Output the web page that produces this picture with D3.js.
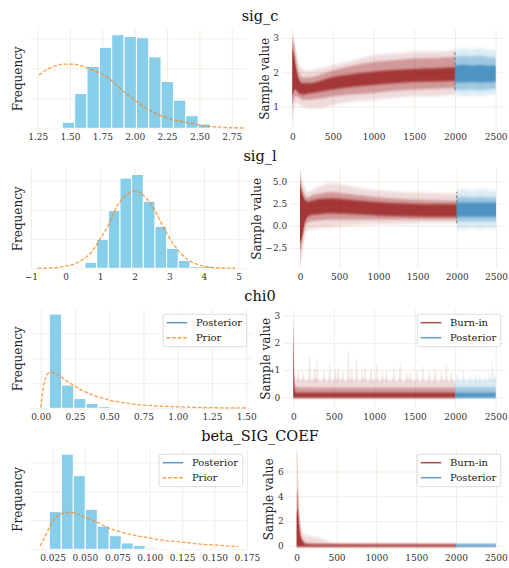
<!DOCTYPE html>
<html><head><meta charset="utf-8">
<script src="https://cdn.jsdelivr.net/npm/d3@7"></script>
<style>
body{margin:0;background:#fff;}
svg{display:block;font-family:"DejaVu Serif",serif;}
</style></head><body>
<svg id="c" width="509" height="568"></svg>
<script>
// ---------------- DATA ----------------
const paramNames = ["sig_c", "sig_l", "chi0", "beta_SIG_COEF"];
const traceTicks = [0, 500, 1000, 1500, 2000, 2500];

// sig_c
const sigC_histEdges = [1.345,1.440,1.536,1.631,1.727,1.822,1.918,2.013,2.108,2.204,2.299,2.395,2.490,2.586];
const sigC_binWidth = 0.0954;
const sigC_histDensity = [0.01,0.10,0.58,1.03,1.35,1.56,1.53,1.51,1.19,0.78,0.47,0.21,0.07,0.01];
const sigC_priorX = [1.26,1.30,1.35,1.40,1.45,1.50,1.55,1.60,1.65,1.70,1.75,1.80,1.85,1.90,1.95,2.00,2.05,2.10,2.15,2.20,2.25,2.30,2.40,2.50,2.60,2.70,2.85];
const sigC_priorY = [0.89,0.95,1.01,1.05,1.07,1.07,1.06,1.03,0.99,0.95,0.90,0.83,0.74,0.64,0.55,0.47,0.39,0.32,0.26,0.21,0.17,0.14,0.10,0.055,0.03,0.015,0.005];
const sigC_histTicks = [1.25,1.50,1.75,2.00,2.25,2.50,2.75];
const sigC_traceYTicks = [1,2,3];
const sigC_burnIter = [0,20,40,60,90,130,200,300,500,750,1000,1250,1500,1750,2000];
const sigC_burnOuterLo = [0.50,0.90,1.10,1.10,1.05,1.00,0.95,0.95,1.05,1.15,1.20,1.25,1.30,1.30,1.35];
const sigC_burnOuterHi = [3.15,3.00,2.75,2.50,2.20,2.10,2.05,2.10,2.20,2.35,2.50,2.55,2.60,2.60,2.65];
const sigC_burnInnerLo = [1.00,1.20,1.30,1.30,1.25,1.20,1.20,1.22,1.30,1.36,1.40,1.46,1.50,1.52,1.55];
const sigC_burnInnerHi = [2.95,2.80,2.50,2.20,1.95,1.85,1.85,1.90,2.05,2.20,2.30,2.35,2.40,2.42,2.45];
const sigC_burnCoreLo = [1.30,1.45,1.50,1.45,1.38,1.35,1.38,1.42,1.50,1.58,1.63,1.68,1.72,1.73,1.75];
const sigC_burnCoreHi = [2.70,2.50,2.20,1.95,1.75,1.68,1.68,1.72,1.86,1.95,2.02,2.07,2.10,2.12,2.15];
const sigC_postIter = [2000,2100,2200,2300,2400,2500];
const sigC_postOuterLo = [1.35,1.30,1.32,1.30,1.33,1.35];
const sigC_postOuterHi = [2.65,2.70,2.68,2.70,2.66,2.65];
const sigC_postInnerLo = [1.50,1.48,1.50,1.48,1.50,1.52];
const sigC_postInnerHi = [2.45,2.48,2.46,2.48,2.45,2.44];
const sigC_postCoreLo = [1.70,1.70,1.72,1.70,1.71,1.72];
const sigC_postCoreHi = [2.20,2.22,2.20,2.21,2.20,2.20];
const sigC_splitRange = [1.48, 2.60];

// sig_l
const sigL_histEdges = [-0.110,0.227,0.564,0.901,1.238,1.575,1.912,2.249,2.586,2.923,3.260,3.597,3.934];
const sigL_binWidth = 0.337;
const sigL_histDensity = [0.007,0,0.041,0.199,0.397,0.618,0.642,0.459,0.286,0.137,0.053,0.012,0.014];
const sigL_priorX = [-0.8,-0.5,0,0.5,0.75,1,1.25,1.5,1.75,2,2.25,2.5,2.75,3,3.25,3.5,3.75,4,4.5,4.9];
const sigL_priorY = [0.001,0.003,0.013,0.06,0.11,0.2,0.3,0.43,0.5,0.53,0.5,0.43,0.32,0.21,0.125,0.065,0.032,0.014,0.002,0.0005];
const sigL_histTicks = [-1,0,1,2,3,4,5];
const sigL_traceYTicks = [-2.5,0,2.5,5];
const sigL_burnIter = [0,15,30,50,75,100,150,250,400,600,800,1000,1300,1600,2000];
const sigL_burnOuterLo = [-4.3,-3.8,-3.0,-1.8,-0.8,-0.5,-0.4,-0.3,-0.2,0.0,0.1,0.2,0.2,0.3,0.3];
const sigL_burnOuterHi = [6.2,5.6,5.0,4.5,4.0,3.8,4.0,4.4,4.8,4.5,4.2,4.0,3.8,3.7,3.6];
const sigL_burnInnerLo = [-2.8,-2.5,-1.8,-0.8,0.1,0.4,0.5,0.6,0.7,0.7,0.7,0.7,0.7,0.7,0.7];
const sigL_burnInnerHi = [5.3,4.8,4.2,3.7,3.3,3.2,3.4,3.6,3.8,3.6,3.4,3.2,3.0,2.9,2.8];
const sigL_burnCoreLo = [-1.9,-1.6,-1.1,0.0,0.7,1.0,1.2,1.3,1.4,1.35,1.25,1.15,1.05,1.0,1.0];
const sigL_burnCoreHi = [4.5,4.0,3.5,3.1,2.8,2.7,2.8,3.0,3.1,2.95,2.8,2.65,2.5,2.4,2.4];
const sigL_postIter = [2000,2100,2200,2300,2400,2500];
const sigL_postOuterLo = [-0.3,-0.4,-0.3,-0.4,-0.3,-0.3];
const sigL_postOuterHi = [4.0,4.1,4.0,4.1,4.0,3.9];
const sigL_postInnerLo = [0.5,0.45,0.5,0.45,0.5,0.5];
const sigL_postInnerHi = [3.2,3.25,3.2,3.25,3.2,3.2];
const sigL_postCoreLo = [1.0,1.0,1.0,1.0,1.0,1.0];
const sigL_postCoreHi = [2.6,2.6,2.6,2.6,2.6,2.6];
const sigL_splitRange = [0.27, 3.8];

// chi0
const chi0_histEdges = [0.063,0.152,0.241,0.330,0.419,0.508,0.597];
const chi0_binWidth = 0.089;
const chi0_histDensity = [7.54,1.86,0.78,0.38,0.14,0.06,0.02];
const chi0_priorX = [0,0.01,0.02,0.035,0.05,0.07,0.09,0.12,0.15,0.2,0.25,0.3,0.35,0.4,0.5,0.6,0.75,0.9,1.0,1.25,1.5];
const chi0_priorY = [0.05,0.9,1.7,2.4,2.75,2.86,2.85,2.72,2.5,2.1,1.78,1.45,1.2,0.98,0.66,0.45,0.26,0.16,0.12,0.05,0.025];
const chi0_histTicks = [0,0.25,0.5,0.75,1.0,1.25,1.5];
const chi0_traceYTicks = [0,1,2,3];
const chi0_burnIter = [0,4,8,12,20,30,50,100,2000];
const chi0_burnOuterHi = [3.05,2.6,1.8,1.2,0.8,0.7,0.65,0.65,0.62];
const chi0_burnInnerHi = [2.9,2.2,1.4,0.8,0.5,0.4,0.38,0.36,0.35];
const chi0_burnCoreHi = [2.7,1.8,1.0,0.5,0.25,0.18,0.17,0.17,0.17];
const chi0_spikeIter = [60,120,200,260,290,380,450,520,555,610,680,720,780,850,885,960,1030,1100,1150,1240,1320,1400,1440,1530,1600,1680,1750,1830,1890,1950];
const chi0_spikeHi = [1.0,0.9,1.55,1.1,1.4,1.0,1.2,1.05,1.15,0.95,1.72,1.1,1.42,1.0,1.15,1.05,1.27,0.95,1.0,1.05,1.3,0.9,0.95,1.0,1.15,0.95,1.05,0.95,1.25,0.9];
const chi0_postIter = [2000,2500];
const chi0_postOuterHi = [0.64,0.64];
const chi0_postInnerHi = [0.38,0.38];
const chi0_postCoreHi = [0.17,0.17];
const chi0_postSpikeIter = [2030,2100,2180,2250,2300,2370,2420,2460,2490];
const chi0_postSpikeHi = [0.85,1.0,0.75,0.8,0.85,0.8,0.9,1.3,0.8];

// beta_SIG_COEF
const beta_histEdges = [0.0225,0.0318,0.0410,0.0503,0.0595,0.0688,0.0780,0.0873,0.0965,0.1058,0.1150,0.1243,0.1336,0.1428,0.1521];
const beta_binWidth = 0.00926;
const beta_histDensity = [13.0,32.8,25.4,13.8,8.0,4.7,2.2,1.3,0.45,0.1,0.05,0,0.12,0,0.1];
const beta_priorX = [0.0154,0.019,0.0226,0.0256,0.0318,0.0359,0.0411,0.0506,0.0599,0.0691,0.0745,0.0874,0.0989,0.1118,0.1247,0.1375,0.1491,0.1684];
const beta_priorY = [1.15,4.2,7.6,10.1,12.2,12.76,12.6,11.0,9.2,7.2,6.4,4.9,4.0,3.0,2.5,1.84,1.5,0.92];
const beta_histTicks = [0.025,0.050,0.075,0.100,0.125,0.150,0.175];
const beta_traceYTicks = [0,2,4,6];
const beta_burnIter = [0,10,20,30,50,80,120,200,300,400,500,2000];
const beta_burnOuterHi = [7.7,7.2,5.5,3.8,2.0,1.0,0.8,0.75,0.6,0.35,0.2,0.14];
const beta_burnInnerHi = [4.0,4.6,3.8,2.6,1.3,0.5,0.25,0.18,0.14,0.13,0.12,0.12];
const beta_burnCoreHi = [2.5,3.0,2.4,1.5,0.7,0.3,0.14,0.12,0.12,0.12,0.12,0.12];
const beta_postIter = [2000,2500];
const beta_postInnerHi = [0.15,0.15];
const beta_postCoreHi = [0.12,0.12];

// ---------------- LAYOUT ----------------
const C_BURN = "#8b0000", C_POST = "#1f77b4", C_BAR = "#87ceeb", C_PRIOR = "#ff7f0e", C_GRID = "#f3eee2";
const rows = [
  { title: paramNames[0], top: 29.3, bottom: 128.3,
    hist: {x0: 30, x1: 247, xdom: [1.1905, 2.8678], ymax: 1.65, yticks: [0.5,1,1.5], xticks: sigC_histTicks, fmt: ".2f",
      edges: sigC_histEdges, bw: sigC_binWidth, dens: sigC_histDensity, px: sigC_priorX, py: sigC_priorY, legend: false},
    trace: {x0: 282.1, ydom: [0.367, 3.255], yticks: sigC_traceYTicks, fmt: "d", labelX: 265,
      burn: {iter: sigC_burnIter, bands: [[sigC_burnOuterLo, sigC_burnOuterHi], [sigC_burnInnerLo, sigC_burnInnerHi], [sigC_burnCoreLo, sigC_burnCoreHi]]},
      post: {iter: sigC_postIter, bands: [[sigC_postOuterLo, sigC_postOuterHi], [sigC_postInnerLo, sigC_postInnerHi], [sigC_postCoreLo, sigC_postCoreHi]]},
      split: sigC_splitRange, legend: false}},
  { title: paramNames[1], top: 169.3, bottom: 268.3,
    hist: {x0: 30, x1: 246, xdom: [-1.026, 5.217], ymax: 0.678, yticks: [0.2,0.4,0.6], xticks: sigL_histTicks, fmt: "d",
      edges: sigL_histEdges, bw: sigL_binWidth, dens: sigL_histDensity, px: sigL_priorX, py: sigL_priorY, legend: false},
    trace: {x0: 290.2, ydom: [-4.8, 6.35], yticks: sigL_traceYTicks, fmt: ".1f", labelX: 257,
      burn: {iter: sigL_burnIter, bands: [[sigL_burnOuterLo, sigL_burnOuterHi], [sigL_burnInnerLo, sigL_burnInnerHi], [sigL_burnCoreLo, sigL_burnCoreHi]]},
      post: {iter: sigL_postIter, bands: [[sigL_postOuterLo, sigL_postOuterHi], [sigL_postInnerLo, sigL_postInnerHi], [sigL_postCoreLo, sigL_postCoreHi]]},
      split: sigL_splitRange, legend: false}},
  { title: paramNames[2], top: 309.3, bottom: 408.3,
    hist: {x0: 30, x1: 251.7, xdom: [-0.0781, 1.540], ymax: 7.92, yticks: [2,4,6], xticks: chi0_histTicks, fmt: ".2f",
      edges: chi0_histEdges, bw: chi0_binWidth, dens: chi0_histDensity, px: chi0_priorX, py: chi0_priorY, legend: true},
    trace: {x0: 283.2, ydom: [-0.404, 3.235], yticks: chi0_traceYTicks, fmt: "d", labelX: 265.5,
      burn: {iter: chi0_burnIter, bands: [[-0.02, chi0_burnOuterHi], [-0.02, chi0_burnInnerHi], [-0.02, chi0_burnCoreHi]], spikeIter: chi0_spikeIter, spikeHi: chi0_spikeHi},
      post: {iter: chi0_postIter, bands: [[-0.02, chi0_postOuterHi], [-0.02, chi0_postInnerHi], [-0.02, chi0_postCoreHi]], spikeIter: chi0_postSpikeIter, spikeHi: chi0_postSpikeHi},
      split: null, legend: true}},
  { title: paramNames[3], top: 449.3, bottom: 549.3,
    hist: {x0: 30, x1: 247.7, xdom: [0.00764, 0.1756], ymax: 34.48, yticks: [10,20,30], xticks: beta_histTicks, fmt: ".3f",
      edges: beta_histEdges, bw: beta_binWidth, dens: beta_histDensity, px: beta_priorX, py: beta_priorY, legend: true},
    trace: {x0: 286.7, ydom: [-0.29, 7.8], yticks: beta_traceYTicks, fmt: "d", labelX: 268.5,
      burn: {iter: beta_burnIter, bands: [[-0.08, beta_burnOuterHi], [-0.08, beta_burnInnerHi], [-0.08, beta_burnCoreHi]]},
      post: {iter: beta_postIter, bands: [[-0.08, beta_postInnerHi], [-0.08, beta_postCoreHi]]},
      split: null, legend: true}}
];
const TRACE_X1 = 505.8, TITLE_X = 260;
const bandOpacity = [0.14, 0.3, 0.64];
const bandBlur = ["0 1.6", "0 1.2", "0 0.8"];

const svg = d3.select("#c");
const defs = svg.append("defs");
bandBlur.forEach((s, i) => {
  defs.append("filter").attr("id", "blur" + i).attr("x", "0%").attr("y", "-20%").attr("width", "100%").attr("height", "140%")
    .append("feGaussianBlur").attr("stdDeviation", s);
});
let clipId = 0;

function styleAxis(g) {
  g.select(".domain").remove();
  g.selectAll(".tick line").attr("stroke", C_GRID).attr("stroke-width", 1);
  g.selectAll(".tick text").attr("fill", "#333").attr("font-size", 9).attr("font-family", "DejaVu Serif");
}

function legend(g, x1, top, items) {
  const w = 83.5, h = 32.4, x = x1 - 5 - w, y = top + 5;
  g.append("rect").attr("x", x).attr("y", y).attr("width", w).attr("height", h).attr("rx", 2)
    .attr("fill", "#fff").attr("fill-opacity", 0.85).attr("stroke", "#d4d4d4").attr("stroke-width", 0.8);
  items.forEach((it, i) => {
    const yy = y + 8.4 + i * 15;
    g.append("line").attr("x1", x + 3.4).attr("x2", x + 24).attr("y1", yy).attr("y2", yy)
      .attr("stroke", it.color).attr("stroke-opacity", it.op).attr("stroke-width", 1.5)
      .attr("stroke-dasharray", it.dash || null);
    g.append("text").attr("x", x + 32.7).attr("y", yy).attr("dy", "0.35em").attr("font-size", 10).attr("fill", "#222").text(it.label);
  });
}

function ylabel(text, x, top, bottom) {
  svg.append("text").attr("transform", `translate(${x},${(top + bottom) / 2}) rotate(-90)`)
    .attr("text-anchor", "middle").attr("dy", "0.35em").attr("font-size", 12).attr("fill", "#222").text(text);
}

function drawHist(r) {
  const h = r.hist;
  const g = svg.append("g");
  const x = d3.scaleLinear().domain(h.xdom).range([h.x0, h.x1]);
  const y = d3.scaleLinear().domain([0, h.ymax]).range([r.bottom, r.top]);
  const id = "clip" + (clipId++);
  defs.append("clipPath").attr("id", id).append("rect").attr("x", h.x0).attr("y", r.top - 2).attr("width", h.x1 - h.x0).attr("height", r.bottom - r.top + 4);
  g.append("g").attr("transform", `translate(0,${r.bottom})`)
    .call(d3.axisBottom(x).tickValues(h.xticks).tickFormat(d3.format(h.fmt)).tickSize(-(r.bottom - r.top)).tickPadding(5))
    .call(styleAxis);
  g.append("g").attr("transform", `translate(${h.x0},0)`)
    .call(d3.axisLeft(y).tickValues([0].concat(h.yticks)).tickFormat("").tickSize(-(h.x1 - h.x0)))
    .call(styleAxis);
  const bars = h.edges.map((e, i) => ({e, d: h.dens[i]})).filter(b => b.d > 0);
  g.append("g").attr("clip-path", `url(#${id})`).selectAll("rect").data(bars).join("rect")
    .attr("x", b => x(b.e)).attr("width", b => x(b.e + h.bw) - x(b.e))
    .attr("y", b => y(b.d)).attr("height", b => y(0) - y(b.d))
    .attr("fill", C_BAR).attr("stroke", "#fff").attr("stroke-width", 1);
  const pts = h.px.map((v, i) => [v, h.py[i]]);
  g.append("path").datum(pts).attr("clip-path", `url(#${id})`)
    .attr("d", d3.line().x(d => x(d[0])).y(d => y(d[1])).curve(d3.curveMonotoneX))
    .attr("fill", "none").attr("stroke", C_PRIOR).attr("stroke-opacity", 0.75).attr("stroke-width", 1.3).attr("stroke-dasharray", "3.7,1.8");
  if (h.legend) legend(g, h.x1, r.top, [
    {label: "Posterior", color: C_POST, op: 0.75},
    {label: "Prior", color: C_PRIOR, op: 0.75, dash: "3.7,1.8"}]);
  ylabel("Frequency", 18, r.top, r.bottom);
}

function val(a, i) { return Array.isArray(a) ? a[i] : a; }

function drawBands(g, spec, color, x, y) {
  if (spec.spikeIter) {
    const sg = g.append("g").attr("fill", color).attr("fill-opacity", 0.09);
    spec.spikeIter.forEach((t, i) => {
      const base = y(0.55), top = y(spec.spikeHi[i]), cx = x(t);
      sg.append("path").attr("d", `M${cx - 1.6},${base}L${cx - 0.3},${top}L${cx + 0.5},${top}L${cx + 1.6},${base}Z`);
    });
  }
  spec.bands.forEach((b, k) => {
    const data = spec.iter.map((t, i) => ({t, lo: val(b[0], i), hi: val(b[1], i)}));
    const lvl = spec.bands.length === 2 ? k + 1 : k;
    g.append("path").datum(data)
      .attr("d", d3.area().x(d => x(d.t)).y0(d => y(d.lo)).y1(d => y(d.hi)).curve(d3.curveMonotoneX))
      .attr("fill", color).attr("fill-opacity", bandOpacity[lvl]).attr("filter", `url(#blur${lvl})`);
  });
}

function drawTrace(r) {
  const t = r.trace;
  const g = svg.append("g");
  const x = d3.scaleLinear().domain([-125, 2625]).range([t.x0, TRACE_X1]);
  const y = d3.scaleLinear().domain(t.ydom).range([r.bottom, r.top]);
  const id = "clip" + (clipId++);
  defs.append("clipPath").attr("id", id).append("rect").attr("x", t.x0).attr("y", r.top).attr("width", TRACE_X1 - t.x0).attr("height", r.bottom - r.top);
  g.append("g").attr("transform", `translate(0,${r.bottom})`)
    .call(d3.axisBottom(x).tickValues(traceTicks).tickFormat(d3.format("d")).tickSize(-(r.bottom - r.top)).tickPadding(5))
    .call(styleAxis);
  g.append("g").attr("transform", `translate(${t.x0},0)`)
    .call(d3.axisLeft(y).tickValues(t.yticks).tickFormat(d3.format(t.fmt)).tickSize(-(TRACE_X1 - t.x0)).tickPadding(3))
    .call(styleAxis);
  const pg = g.append("g").attr("clip-path", `url(#${id})`);
  drawBands(pg.append("g"), t.burn, C_BURN, x, y);
  drawBands(pg.append("g"), t.post, C_POST, x, y);
  if (t.split) {
    pg.append("line").attr("x1", x(2000)).attr("x2", x(2000)).attr("y1", y(t.split[0])).attr("y2", y(t.split[1]))
      .attr("stroke", "#777").attr("stroke-width", 1).attr("stroke-dasharray", "3,2");
  }
  if (t.legend) legend(g, TRACE_X1, r.top, [
    {label: "Burn-in", color: C_BURN, op: 0.7},
    {label: "Posterior", color: C_POST, op: 0.7}]);
  ylabel("Sample value", t.labelX, r.top, r.bottom);
}

rows.forEach(r => {
  drawHist(r);
  drawTrace(r);
  svg.append("text").attr("x", TITLE_X).attr("y", r.top - 8).attr("text-anchor", "middle")
    .attr("font-size", 14.5).attr("fill", "#111").text(r.title);
});
</script>
</body></html>
